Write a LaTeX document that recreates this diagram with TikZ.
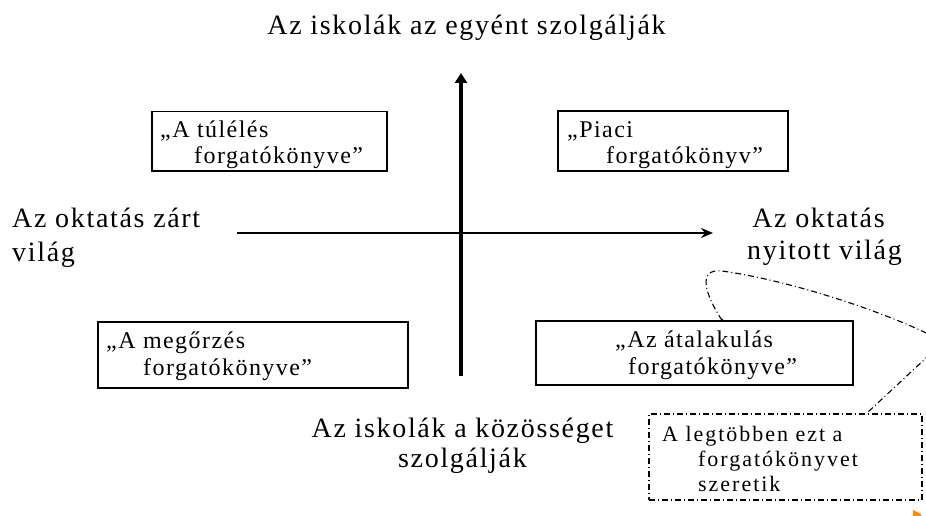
\documentclass[tikz,border=0pt]{standalone}
\usepackage{fontspec}
\setmainfont{Liberation Serif}
\newfontfamily\spaced{Liberation Serif}[LetterSpace=6]
\newfontfamily\notefont{Liberation Serif}[LetterSpace=9]
\usetikzlibrary{arrows.meta}
\begin{document}
\begin{tikzpicture}[x=1pt,y=-1pt,
  lbl/.style={inner sep=0pt, font=\spaced\fontsize{28}{32}\selectfont},
  boxtxt/.style={inner sep=0pt, anchor=base west, font=\spaced\fontsize{24}{28}\selectfont},
  notetxt/.style={inner sep=0pt, anchor=base west, font=\notefont\fontsize{22}{25}\selectfont},
  scen/.style={draw, line width=1.4pt, inner sep=0pt},
  note/.style={draw, line width=1.1pt, inner sep=0pt, dash pattern=on 6pt off 3pt on 1pt off 3pt},
  link/.style={line width=1.1pt, dash pattern=on 6pt off 3pt on 1pt off 3pt},
  vaxis/.style={line width=3.5pt, -{Triangle[length=10pt,width=12pt]}},
  haxis/.style={line width=2pt, -{Stealth[length=12pt,width=10pt,inset=4pt]}}]
\useasboundingbox (0,0) rectangle (926,516);

% axes
\coordinate (vb) at (461,376);
\coordinate (vt) at (461,73);
\coordinate (hl) at (237,233);
\coordinate (hr) at (713,233);
\draw[vaxis] (vb) -- (vt);
\draw[haxis] (hl) -- (hr);

% axis labels
\node[lbl, anchor=base] (top) at (466.5,35) {Az iskolák az egyént szolgálják};
\node[lbl, anchor=base west] (left1) at (12,227) {Az oktatás zárt};
\node[lbl, anchor=base west] (left2) at (12,261) {világ};
\node[lbl, anchor=base] (right1) at (818.5,227) {Az oktatás};
\node[lbl, anchor=base] (right2) at (824.5,259) {nyitott világ};
\node[lbl, anchor=base] (bot1) at (462.5,437) {Az iskolák a közösséget};
\node[lbl, anchor=base] (bot2) at (462.5,467) {szolgálják};

% scenario boxes
\node[scen, minimum width=235, minimum height=59.5] (tl) at (269.5,141.25) {};
\node[boxtxt] (tla) at (160,138) {„A túlélés};
\node[boxtxt] (tlb) at (194,164) {forgatókönyve”};

\node[scen, minimum width=230, minimum height=60] (tr) at (673,141) {};
\node[boxtxt] (tra) at (567,138) {„Piaci};
\node[boxtxt] (trb) at (606,164) {forgatókönyv”};

\node[scen, minimum width=310, minimum height=66] (bl) at (253,355) {};
\node[boxtxt] (bla) at (106,348) {„A megőrzés};
\node[boxtxt] (blb) at (143,375) {forgatókönyve”};

\node[scen, minimum width=317, minimum height=64] (br) at (694.5,353) {};
\node[boxtxt] (bra) at (615,347) {„Az átalakulás};
\node[boxtxt] (brb) at (628,374) {forgatókönyve”};

% comment box
\node[note, minimum width=273, minimum height=86] (cm) at (785.5,457) {};
\node[notetxt] (cma) at (662,441) {A legtöbben ezt a};
\node[notetxt] (cmb) at (698,466) {forgatókönyvet};
\node[notetxt] (cmc) at (698,491) {szeretik};

% dash-dot callout loop from the comment to the favoured scenario
\fill ([xshift=27.5pt]br.north) circle (1.6);
\begin{scope}
  \clip (0,0) rectangle (926,516);
  \draw[link] ([xshift=27.5pt]br.north)
    .. controls (706,296) and (696,268) .. (722,271)
    .. controls (800,282) and (900,318) .. (940,340)
    .. controls (955,350) and (945,356) .. (926,358)
    -- ([xshift=81pt]cm.north);
\end{scope}

% small orange corner mark
\fill[orange!90!yellow] (913,510) -- (921,514) -- (921,516) -- (913,516) -- cycle;
\end{tikzpicture}
\end{document}
